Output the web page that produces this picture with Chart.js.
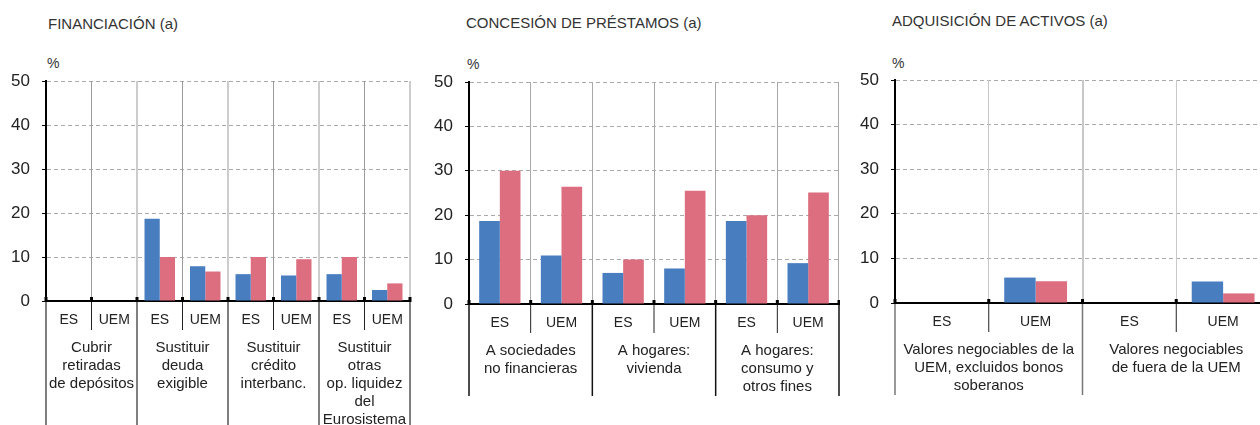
<!DOCTYPE html>
<html lang="es">
<head>
<meta charset="utf-8">
<title>Financiación, concesión de préstamos y adquisición de activos</title>
<script src="https://cdn.jsdelivr.net/npm/chart.js@4.4.1/dist/chart.umd.min.js"></script>
<style>
  html, body { margin: 0; padding: 0; background: #fff; overflow: hidden; width: 1260px; height: 425px; }
  body { position: relative; font-family: "Liberation Sans", Arial, sans-serif; color: #333; }
  canvas { position: absolute; top: 0; }
  .titulo, .unidad { position: absolute; font-size: 14px; line-height: 16px; white-space: nowrap; }
  .titulo { font-size: 15px; }
</style>
</head>
<body>
<div class="titulo" style="left:48px;top:16px">FINANCIACIÓN (a)</div>
<div class="titulo" style="left:466px;top:15px">CONCESIÓN DE PRÉSTAMOS (a)</div>
<div class="titulo" style="left:892px;top:13px">ADQUISICIÓN DE ACTIVOS (a)</div>
<div class="unidad" style="left:47px;top:55px">%</div>
<div class="unidad" style="left:467px;top:56px">%</div>
<div class="unidad" style="left:892px;top:55px">%</div>

<canvas id="chartFinanciacion" width="420" height="425" style="left:0"></canvas>
<canvas id="chartPrestamos" width="420" height="425" style="left:420px"></canvas>
<canvas id="chartActivos" width="440" height="425" style="left:840px"></canvas>

<script>
// Datos (%)
const ticksY = [0, 10, 20, 30, 40, 50];

const categoriasFinanciacion = ['ES', 'UEM', 'ES', 'UEM', 'ES', 'UEM', 'ES', 'UEM'];
const gruposFinanciacion = [
  ['Cubrir', 'retiradas', 'de depósitos'],
  ['Sustituir', 'deuda', 'exigible'],
  ['Sustituir', 'crédito', 'interbanc.'],
  ['Sustituir', 'otras', 'op. liquidez', 'del', 'Eurosistema']
];
const azulFinanciacion = [0, 0, 18.7, 7.9, 6.1, 5.8, 6.1, 2.5];
const rosaFinanciacion = [0, 0, 10, 6.7, 10, 9.5, 10, 4];

const categoriasPrestamos = ['ES', 'UEM', 'ES', 'UEM', 'ES', 'UEM'];
const gruposPrestamos = [
  ['A sociedades', 'no financieras'],
  ['A hogares:', 'vivienda'],
  ['A hogares:', 'consumo y', 'otros fines']
];
const azulPrestamos = [18.7, 10.9, 7.0, 8.0, 18.7, 9.2];
const rosaPrestamos = [30, 26.4, 10, 25.5, 20, 25.1];

const categoriasActivos = ['ES', 'UEM', 'ES', 'UEM'];
const gruposActivos = [
  ['Valores negociables de la', 'UEM, excluidos bonos', 'soberanos'],
  ['Valores negociables', 'de fuera de la UEM']
];
const azulActivos = [0, 5.7, 0, 4.8];
const rosaActivos = [0, 4.85, 0, 2.15];

const AZUL = '#487dc0';
const ROSA = '#dc6e80';
const TEXTO = '#222';
const FUENTE = '"Liberation Sans", Arial, sans-serif';

// líneas divisorias bajo el eje (ES/UEM y grupos)
const separadores = {
  id: 'separadores',
  afterDraw(chart, args, opts) {
    const { ctx } = chart;
    const x = chart.scales.x;
    const n = x.ticks.length;
    const paso = (x.right - x.left) / n;
    const y0 = x.top;
    ctx.save();
    for (let i = 0; i <= n; i++) {
      const px = x.left + i * paso;
      const grupo = i % 2 === 0;
      ctx.beginPath();
      ctx.strokeStyle = grupo ? opts.colorGrupo : '#222';
      ctx.lineWidth = grupo ? 1.5 : 1;
      ctx.moveTo(px, y0);
      ctx.lineTo(px, grupo ? opts.finGrupo : y0 + 29);
      ctx.stroke();
      // marca gruesa sobre el eje
      ctx.fillStyle = '#000';
      ctx.fillRect(px - 1.5, y0 - 4, 3, 5);
    }
    ctx.restore();
  }
};

function crearPanel(id, p) {
  const canvas = document.getElementById(id);
  const esGrupo = c => c.index === undefined || c.index % 2 === 0;
  return new Chart(canvas, {
    type: 'bar',
    data: {
      labels: p.categorias,
      datasets: [
        { label: 'Serie azul', data: p.azul, backgroundColor: AZUL, borderWidth: 0,
          categoryPercentage: 0.67, barPercentage: 1 },
        { label: 'Serie rosa', data: p.rosa, backgroundColor: ROSA, borderWidth: 0,
          categoryPercentage: 0.67, barPercentage: 1 }
      ]
    },
    options: {
      responsive: false,
      animation: false,
      layout: { padding: { top: p.arriba, right: p.derecha, left: 0, bottom: 0 } },
      plugins: {
        legend: { display: false },
        tooltip: { enabled: false },
        separadores: { colorGrupo: p.colorSeparador, finGrupo: p.finGrupo }
      },
      scales: {
        y: {
          min: 0,
          max: 50,
          afterBuildTicks: s => { s.ticks = ticksY.map(v => ({ value: v })); },
          afterFit: s => { s.width = p.anchoEjeY; },
          ticks: { color: TEXTO, font: { family: FUENTE, size: 17 }, padding: 12 },
          grid: { color: '#aaaaaa', lineWidth: 1, tickLength: 4, tickColor: '#000' },
          border: { display: true, color: '#000', width: 2, dash: [4, 3] }
        },
        x: {
          type: 'category',
          offset: true,
          weight: 0,
          afterFit: s => { s.height = 30; },
          ticks: { color: TEXTO, font: { family: FUENTE, size: 14 }, padding: 10.5,
                   autoSkip: false, maxRotation: 0, minRotation: 0 },
          grid: {
            offset: true,
            drawTicks: false,
            color: c => c.index === 0 ? 'rgba(0,0,0,0)' : (esGrupo(c) ? p.lineaGrupo : p.lineaInterna),
            lineWidth: c => esGrupo(c) ? p.anchoGrupo : 1
          },
          border: { display: true, color: '#000', width: 2 }
        },
        xg: {
          type: 'category',
          position: 'bottom',
          labels: p.grupos,
          offset: true,
          weight: 1,
          afterFit: s => { s.height = 425 - p.cero - 30; },
          ticks: { color: TEXTO, font: { family: FUENTE, size: 15, lineHeight: 1.2 }, padding: 8,
                   autoSkip: false, maxRotation: 0, minRotation: 0 },
          grid: { display: false, drawTicks: false },
          border: { display: false }
        }
      }
    },
    plugins: [separadores]
  });
}

crearPanel('chartFinanciacion', {
  categorias: categoriasFinanciacion, grupos: gruposFinanciacion,
  azul: azulFinanciacion, rosa: rosaFinanciacion,
  anchoEjeY: 46, arriba: 81, derecha: 10, cero: 301, finGrupo: 425,
  lineaGrupo: '#cccccc', lineaInterna: '#9a9a9a', anchoGrupo: 2, colorSeparador: '#555'
});

crearPanel('chartPrestamos', {
  categorias: categoriasPrestamos, grupos: gruposPrestamos,
  azul: azulPrestamos, rosa: rosaPrestamos,
  anchoEjeY: 49, arriba: 82, derecha: 1, cero: 304, finGrupo: 396,
  lineaGrupo: '#a8a8a8', lineaInterna: '#a8a8a8', anchoGrupo: 1, colorSeparador: '#111'
});

crearPanel('chartActivos', {
  categorias: categoriasActivos, grupos: gruposActivos,
  azul: azulActivos, rosa: rosaActivos,
  anchoEjeY: 55, arriba: 80, derecha: 10, cero: 303, finGrupo: 395,
  lineaGrupo: '#c8c8c8', lineaInterna: '#c8c8c8', anchoGrupo: 2, colorSeparador: '#777'
});
</script>
</body>
</html>
